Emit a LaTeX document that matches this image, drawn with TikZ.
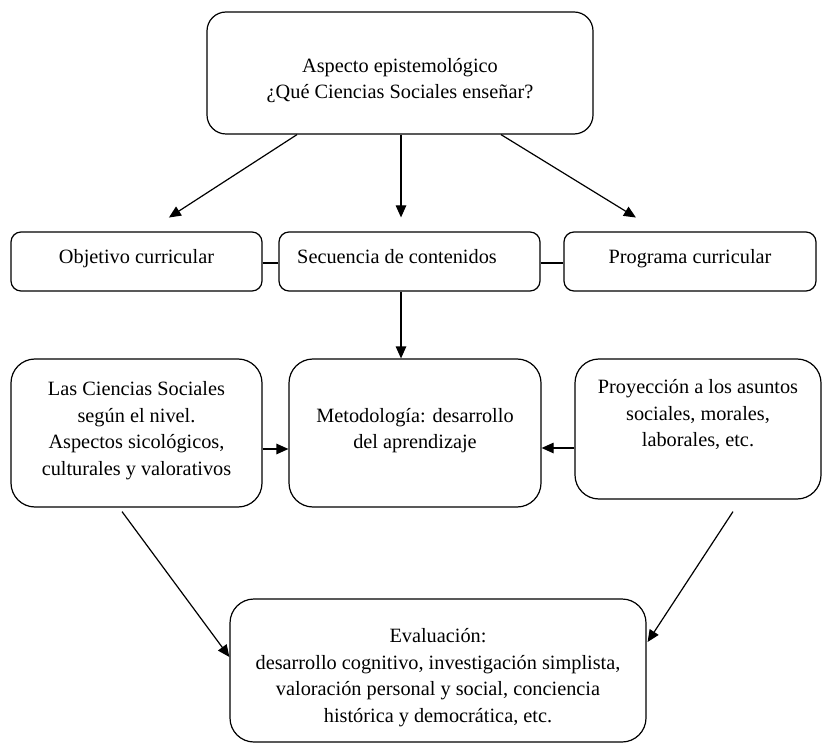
\documentclass[tikz,border=0pt]{standalone}
\usepackage{fontspec}
\setmainfont{Liberation Serif}
\usetikzlibrary{arrows.meta,calc}
\newcommand{\mytxt}[2][0pt]{\raisebox{#1}[\height][\depth]{\begin{tabular}{@{}c@{}}#2\end{tabular}}}
\begin{document}
\begin{tikzpicture}[x=1pt,y=-1pt,
  font=\fontsize{20.3}{26.5}\selectfont,
  box/.style={draw, line width=1.2pt, inner sep=0pt, align=center},
  boxA/.style={box, rounded corners=19pt},
  boxB/.style={box, rounded corners=10pt, minimum height=59pt},
  boxC/.style={box, rounded corners=24pt},
  arr/.style={line width=1.2pt, -{Triangle[length=12pt,width=10.5pt]}},
  ln/.style={line width=1.2pt}]
\useasboundingbox (0,0) rectangle (822,743);
% boxes
\node[boxA, minimum width=386pt, minimum height=122pt] (top) at (400,73)
  {\mytxt[-7pt]{Aspecto epistemológico\\¿Qué Ciencias Sociales enseñar?}};
\node[boxB, minimum width=251pt] (obj) at (136.5,261.5) {\mytxt[3pt]{Objetivo curricular}};
\node[boxB, minimum width=261pt] (sec) at (409.5,261.5) {\mytxt[3pt]{Secuencia de contenidos\hspace*{25pt}}};
\node[boxB, minimum width=252pt] (prog) at (690,261.5) {\mytxt[3pt]{Programa curricular}};
\node[boxC, minimum width=251pt, minimum height=148pt] (las) at (136.5,433)
  {\mytxt[3pt]{Las Ciencias Sociales\\según el nivel.\\Aspectos sicológicos,\\culturales y valorativos}};
\node[boxC, minimum width=252pt, minimum height=148pt] (met) at (415,433)
  {\mytxt[3pt]{Metodología: desarrollo\\del aprendizaje}};
\node[boxC, minimum width=246pt, minimum height=140pt] (proy) at (698,429)
  {\mytxt[14pt]{Proyección a los asuntos\\sociales, morales,\\laborales, etc.}};
\node[boxC, minimum width=416pt, minimum height=143pt] (eval) at (438,670.5)
  {\mytxt[-6.5pt]{Evaluación:\\desarrollo cognitivo, investigación simplista,\\valoración personal y social, conciencia\\histórica y democrática, etc.}};
% connectors
\draw[arr, shorten >=25.5pt] ($(top.south)+(-103,0)$) -- ($(obj.north)+(11,0)$);
\draw[arr, shorten >=14pt] ($(top.south)+(1,0)$) -- ($(sec.north)+(-8.5,0)$);
\draw[arr, shorten >=26.5pt] ($(top.south)+(101,0)$) -- ($(prog.north)+(-31.5,0)$);
\draw[ln] ($(obj.east)+(0,1.5)$) -- ($(sec.west)+(0,1.5)$);
\draw[ln] ($(sec.east)+(0,1.5)$) -- ($(prog.west)+(0,1.5)$);
\draw[arr] ($(sec.south)+(-8.5,0)$) -- ($(met.north)+(-14,0)$);
\draw[arr] ($(las.east)+(0,16)$) -- ($(met.west)+(0,16)$);
\draw[arr] ($(proy.west)+(0,19)$) -- ($(met.east)+(0,15)$);
\draw[arr] ($(las.south)+(-14.5,4)$) -- ($(eval.west)+(0,-13.5)$);
\draw[arr] ($(proy.south)+(35,12)$) -- ($(eval.east)+(1,-28.5)$);
\end{tikzpicture}
\end{document}
